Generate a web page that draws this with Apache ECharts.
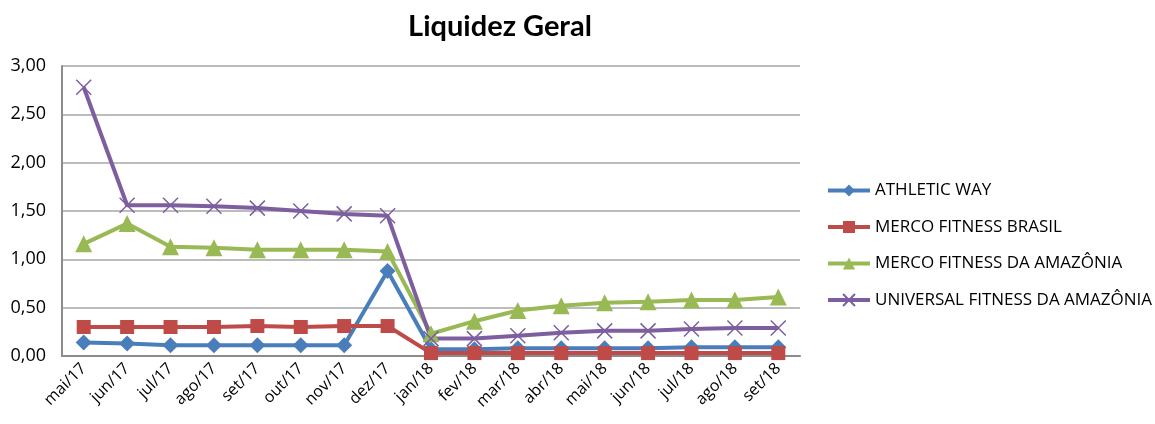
<!DOCTYPE html>
<html>
<head>
<meta charset="utf-8">
<script src="https://cdn.jsdelivr.net/npm/echarts@6/dist/echarts.min.js"></script>
<style>
  html, body { margin: 0; padding: 0; background: #fff; }
  #chart { width: 1155px; height: 424px; }
</style>
</head>
<body>
<div id="chart"></div>
<script>
const months = ['mai/17', 'jun/17', 'jul/17', 'ago/17', 'set/17', 'out/17', 'nov/17', 'dez/17',
  'jan/18', 'fev/18', 'mar/18', 'abr/18', 'mai/18', 'jun/18', 'jul/18', 'ago/18', 'set/18'];

const athleticWay = [0.14, 0.13, 0.11, 0.11, 0.11, 0.11, 0.11, 0.88,
  0.07, 0.07, 0.08, 0.08, 0.08, 0.08, 0.09, 0.09, 0.09];
const mercoBrasil = [0.30, 0.30, 0.30, 0.30, 0.31, 0.30, 0.31, 0.31,
  0.03, 0.03, 0.03, 0.03, 0.03, 0.03, 0.03, 0.03, 0.03];
const mercoAmazonia = [1.16, 1.37, 1.13, 1.12, 1.10, 1.10, 1.10, 1.08,
  0.23, 0.36, 0.47, 0.52, 0.55, 0.56, 0.58, 0.58, 0.61];
const universalAmazonia = [2.78, 1.56, 1.56, 1.55, 1.53, 1.50, 1.47, 1.45,
  0.18, 0.18, 0.21, 0.24, 0.26, 0.26, 0.28, 0.29, 0.29];

const font = '"Open Sans", sans-serif';
const crossPath = 'path://M0,0L10,10M10,0L0,10';

function line(name, data, color, symbol, size, extra) {
  return Object.assign({
    name: name,
    type: 'line',
    data: data,
    symbol: symbol,
    symbolSize: size,
    lineStyle: { color: color, width: 4 },
    itemStyle: { color: color },
    emphasis: { disabled: true },
    animation: false
  }, extra || {});
}

const chart = echarts.init(document.getElementById('chart'));
chart.setOption({
  backgroundColor: '#fff',
  title: {
    text: 'Liquidez Geral',
    left: 495,
    top: 7,
    textAlign: 'center',
    textStyle: { fontFamily: 'Lato, sans-serif', fontSize: 29, fontWeight: 'bold', color: '#000' }
  },
  legend: {
    orient: 'vertical',
    left: 821,
    top: 177,
    itemWidth: 42,
    itemHeight: 15,
    itemGap: 19.5,
    lineStyle: { width: 4 },
    textStyle: { fontFamily: font, fontSize: 17, color: '#000' },
    data: ['ATHLETIC WAY', 'MERCO FITNESS BRASIL', 'MERCO FITNESS DA AMAZÔNIA', 'UNIVERSAL FITNESS DA AMAZÔNIA']
  },
  grid: { left: 62, right: 355, top: 66, bottom: 68 },
  xAxis: {
    type: 'category',
    data: months,
    boundaryGap: true,
    axisLine: { lineStyle: { color: '#8c8c8c', width: 2 } },
    axisTick: { show: false },
    axisLabel: { rotate: 45, fontFamily: font, fontSize: 16, color: '#000', margin: 10, interval: 0 }
  },
  yAxis: {
    type: 'value',
    min: 0,
    max: 3,
    interval: 0.5,
    axisLine: { show: true, lineStyle: { color: '#8c8c8c', width: 2 } },
    axisTick: { show: false },
    splitLine: { lineStyle: { color: '#a6a6a6', width: 1.5 } },
    axisLabel: {
      fontFamily: font, fontSize: 18, color: '#000', margin: 16,
      formatter: v => v.toFixed(2).replace('.', ',')
    }
  },
  series: [
    line('ATHLETIC WAY', athleticWay, '#4a7ebb', 'diamond', 16),
    line('MERCO FITNESS BRASIL', mercoBrasil, '#be4b48', 'rect', 14),
    line('MERCO FITNESS DA AMAZÔNIA', mercoAmazonia, '#98b954', 'triangle', 17),
    line('UNIVERSAL FITNESS DA AMAZÔNIA', universalAmazonia, '#7d5fa0', crossPath, 15, {
      itemStyle: { color: 'none', borderColor: '#7d5fa0', borderWidth: 1.5 }
    })
  ]
});
</script>
</body>
</html>
